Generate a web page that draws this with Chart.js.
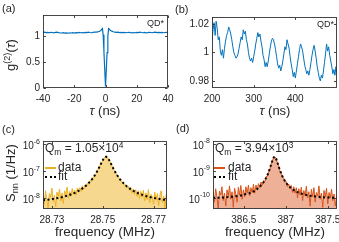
<!DOCTYPE html>
<html>
<head>
<meta charset="utf-8">
<script src="https://cdn.jsdelivr.net/npm/chart.js@4"></script>
<style>
html, body { margin: 0; padding: 0; background: #fff; }
#fig { position: relative; width: 339px; height: 242px; overflow: hidden; font-family: "Liberation Sans", Arial, sans-serif; color: #262626; }
#fig canvas { position: absolute; left: 0; top: 0; }
.t { position: absolute; white-space: nowrap; line-height: 1; }
.sup { font-size: 70%; position: relative; top: -0.5em; }
.sub { font-size: 70%; position: relative; top: 0.3em; }
.rot { transform: translate(-50%, -50%) rotate(-90deg); }
.cx { transform: translate(-50%, -50%); }
.key { position: absolute; width: 11px; height: 0; }
</style>
</head>
<body>
<div id="fig">
  <canvas id="pa" width="339" height="242"></canvas>
  <canvas id="pb" width="339" height="242"></canvas>
  <canvas id="pc" width="339" height="242"></canvas>
  <canvas id="pd" width="339" height="242"></canvas>

  <div class="t" style="left:2px;top:3px;font-size:11px">(a)</div>
  <div class="t" style="left:175px;top:4px;font-size:11px">(b)</div>
  <div class="t" style="left:2px;top:124px;font-size:11px">(c)</div>
  <div class="t" style="left:176px;top:123px;font-size:11px">(d)</div>

  <div class="t rot" style="left:11px;top:55px;font-size:13px">g<span class="sup">(2)</span>(<i>τ</i>)</div>
  <div class="t rot" style="left:11px;top:173px;font-size:13px">S<span class="sub">nn</span> (1/Hz)</div>

  <div class="t cx" style="left:105px;top:110px;font-size:13px"><i>τ</i> (ns)</div>
  <div class="t cx" style="left:275px;top:110px;font-size:13px"><i>τ</i> (ns)</div>
  <div class="t cx" style="left:105px;top:232px;font-size:13.5px">frequency (MHz)</div>
  <div class="t cx" style="left:275px;top:232px;font-size:13.5px">frequency (MHz)</div>

  <div class="t" style="right:175px;top:19px;font-size:9px">QD*</div>
  <div class="t" style="right:5px;top:20px;font-size:9px">QD*</div>

  <div class="t" style="left:45px;top:142px;font-size:12px">Q<span class="sub">m</span> = 1.05×10<span class="sup">4</span></div>
  <div class="key" style="left:45px;top:167px;border-top:2px solid #EDB120"></div>
  <div class="t" style="left:58px;top:161px;font-size:12px">data</div>
  <div class="key" style="left:45px;top:176px;border-top:2px dotted #000"></div>
  <div class="t" style="left:58px;top:170px;font-size:12px">fit</div>

  <div class="t" style="left:215px;top:142px;font-size:12px">Q<span class="sub">m</span> = 3.94×10<span class="sup">3</span></div>
  <div class="key" style="left:214px;top:167px;border-top:2px solid #D95319"></div>
  <div class="t" style="left:228px;top:161px;font-size:12px">data</div>
  <div class="key" style="left:214px;top:176px;border-top:2px dotted #000"></div>
  <div class="t" style="left:228px;top:170px;font-size:12px">fit</div>
</div>

<script>
const FONT = '"Liberation Sans", Arial, sans-serif'
const INK = '#262626'

// (a) g2 over the full delay window
const tauA = [-40, -39, -38, -37, -36, -35, -34, -33, -32, -31, -30, -29, -28, -27, -26, -25, -24, -23, -22, -21,
  -20, -19, -18, -17, -16, -15, -14, -13, -12, -11, -10, -9, -8, -7, -6, -5, -4,
  -3, -2.5, -2, -1.5, -1, -0.5, 0, 0.5, 1, 1.5, 2, 2.5, 3,
  4, 5, 6, 7, 8, 9, 10, 11, 12, 13, 14, 15, 16, 17, 18, 19, 20, 21, 22, 23, 24, 25, 26, 27, 28, 29, 30,
  31, 32, 33, 34, 35, 36, 37, 38, 39, 40]
const g2A = [1.065, 1.07, 1.062, 1.066, 1.06, 1.068, 1.064, 1.058, 1.066, 1.07, 1.062, 1.058, 1.055, 1.06, 1.052,
  1.056, 1.05, 1.058, 1.055, 1.06, 1.054, 1.062, 1.058, 1.066, 1.06, 1.064, 1.058, 1.066, 1.062, 1.07, 1.064,
  1.06, 1.066, 1.07, 1.072, 1.075, 1.085,
  1.1, 1.125, 1.14, 1.02, 0.7, 0.36, 0.03, 0.34, 0.68, 1.0, 1.14, 1.13, 1.105,
  1.09, 1.078, 1.07, 1.066, 1.072, 1.064, 1.068, 1.062, 1.066, 1.06, 1.064, 1.068, 1.062, 1.058, 1.064, 1.06,
  1.066, 1.062, 1.07, 1.064, 1.06, 1.066, 1.058, 1.062, 1.068, 1.064, 1.06, 1.066, 1.07, 1.064, 1.068, 1.062,
  1.066, 1.06, 1.064, 1.068, 1.062]
const aTicksX = [-40, -20, 0, 20, 40]
const aTicksY = [0, 0.5, 1]

// (b) g2 at long delays, sampled every 2.5 ns from 200 ns
const tauBStart = 200
const tauBStep = 2.5
const g2B = [1.008, 1.016, 1.021, 1.012, 1.022, 1.017, 1.009, 1.011, 1.001, 0.998, 1.002, 0.996, 1.003, 1.008,
  1.012, 1.014, 1.018, 1.016, 1.013, 1.009, 1.004, 1.0, 0.998, 0.996, 0.997, 0.999, 1.003, 1.007, 1.011, 1.009,
  1.016, 1.013, 1.015, 1.009, 1.006, 1.0, 0.996, 0.994, 0.996, 0.993, 0.997, 1.001, 1.006, 1.01, 1.014, 1.011,
  1.013, 1.008, 1.004, 0.998, 0.995, 0.99, 0.993, 0.99, 0.994, 0.999, 1.004, 1.008, 1.01, 1.009, 1.006, 1.002,
  0.997, 0.992, 0.989, 0.991, 0.987, 0.99, 0.994, 0.999, 1.004, 1.002, 1.009, 1.006, 1.003, 0.997, 0.992, 0.988,
  0.983, 0.986, 0.982, 0.987, 0.992, 0.997, 1.002, 1.006, 1.004, 1.001, 0.996, 0.991, 0.988, 0.985, 0.987,
  0.984, 0.988, 0.993, 0.998, 1.002, 1.005, 1.001, 0.996, 0.99, 0.986, 0.982, 0.98, 0.984, 0.982, 0.987, 0.993,
  0.999, 1.006, 1.001, 1.004, 0.998, 0.994, 0.99, 0.985, 0.988, 0.984, 0.99, 0.985]
const bTicksX = [200, 300, 400]
const bTicksY = [0.98, 1, 1.02]

// (c) noise spectrum of the 28.75 MHz mode, 0.5 kHz bins
const freqCStart = 28.7265
const freqCStep = 0.0005
const snnC = [1.4e-8, 6.0e-9, 1.9e-8, 9.0e-9, 4.5e-9, 1.5e-8, 1.1e-8, 2.4e-8, 7.5e-9, 1.3e-8,
  5.0e-9, 1.7e-8, 1.2e-8, 2.2e-8, 8.0e-9, 1.6e-8, 6.5e-9, 1.9e-8, 1.4e-8, 2.6e-8,
  1.0e-8, 1.8e-8, 1.2e-8, 2.3e-8, 1.4e-8, 2.0e-8, 1.3e-8, 2.4e-8, 1.7e-8, 2.5e-8,
  1.8e-8, 2.9e-8, 2.2e-8, 3.1e-8, 2.6e-8, 3.6e-8, 3.3e-8, 4.6e-8, 4.2e-8, 5.8e-8,
  6.0e-8, 7.6e-8, 8.4e-8, 1.1e-7, 1.27e-7, 1.66e-7, 2.0e-7, 2.55e-7, 2.95e-7, 3.4e-7,
  3.32e-7, 3.12e-7, 2.58e-7, 2.16e-7, 1.65e-7, 1.4e-7, 1.07e-7, 9.4e-8, 7.3e-8, 6.7e-8,
  5.2e-8, 5.0e-8, 3.9e-8, 4.0e-8, 3.0e-8, 3.3e-8, 2.4e-8, 2.8e-8, 2.0e-8, 2.5e-8,
  1.6e-8, 2.2e-8, 1.4e-8, 2.1e-8, 1.2e-8, 1.9e-8, 1.0e-8, 1.8e-8, 1.1e-8, 2.0e-8,
  8.0e-9, 1.6e-8, 9.0e-9, 2.1e-8, 7.0e-9, 1.4e-8, 1.2e-8, 6.0e-9, 1.7e-8, 8.5e-9,
  1.5e-8, 5.5e-9, 1.3e-8, 1.9e-8, 7.0e-9, 1.2e-8, 4.5e-9, 1.4e-8, 9.0e-9]
const fitFreqC = [28.7265, 28.7303, 28.7333, 28.7363, 28.7393, 28.7413, 28.7433, 28.7453, 28.7463, 28.7473,
  28.7483, 28.7493, 28.7498, 28.7503, 28.7508, 28.7513, 28.7518, 28.7523, 28.7528, 28.7533, 28.7543,
  28.7553, 28.7563, 28.7573, 28.7593, 28.7613, 28.7633, 28.7663, 28.7693, 28.7723, 28.7753]
const fitSnnC = [8.5e-9, 9.5e-9, 1.07e-8, 1.27e-8, 1.64e-8, 2.08e-8, 2.86e-8, 4.4e-8, 5.8e-8, 8.1e-8,
  1.2e-7, 1.86e-7, 2.31e-7, 2.81e-7, 3.24e-7, 3.41e-7, 3.24e-7, 2.81e-7, 2.31e-7, 1.86e-7, 1.2e-7,
  8.1e-8, 5.8e-8, 4.4e-8, 2.86e-8, 2.08e-8, 1.64e-8, 1.27e-8, 1.07e-8, 9.5e-9, 8.5e-9]
const cTicksX = [28.73, 28.75, 28.77]
const cTicksY = [1e-8, 1e-7, 1e-6]

// (d) noise spectrum of the 387 MHz mode, 15 kHz bins
const freqDStart = 386.135
const freqDStep = 0.015
const snnD = [1.6e-10, 7e-11, 2.2e-10, 1.1e-10, 4e-11, 1.8e-10, 1.3e-10, 2.6e-10, 8e-11, 1.5e-10,
  5e-11, 2.0e-10, 1.2e-10, 2.8e-10, 9e-11, 1.7e-10, 4.5e-11, 2.3e-10, 1.4e-10, 7e-11,
  2.5e-10, 1.3e-10, 2.9e-10, 9e-11, 2.0e-10, 1.1e-10, 2.6e-10, 1.5e-10, 3.0e-10, 1.2e-10,
  2.4e-10, 1.6e-10, 3.2e-10, 1.5e-10, 3.0e-10, 2.0e-10, 3.4e-10, 2.4e-10, 3.9e-10, 3.0e-10,
  4.4e-10, 4.0e-10, 6.2e-10, 6.4e-10, 9.6e-10, 1.15e-9, 1.8e-9, 2.3e-9, 3.2e-9, 3.3e-9,
  2.95e-9, 2.0e-9, 1.55e-9, 1.0e-9, 8.6e-10, 5.8e-10, 5.6e-10, 3.8e-10, 4.1e-10, 2.6e-10,
  3.3e-10, 2.2e-10, 2.9e-10, 1.6e-10, 2.6e-10, 1.5e-10, 2.4e-10, 1.0e-10, 2.2e-10, 1.3e-10,
  2.5e-10, 8e-11, 1.9e-10, 1.2e-10, 2.7e-10, 1.0e-10, 1.7e-10, 5e-11, 2.1e-10, 1.1e-10,
  2.4e-10, 7e-11, 1.6e-10, 1.2e-10, 2.8e-10, 9e-11, 1.5e-10, 4.5e-11, 1.9e-10, 1.1e-10,
  2.3e-10, 6e-11, 1.6e-10, 1.0e-10, 2.1e-10, 8e-11, 1.4e-10, 5e-11, 1.2e-10]
const fitFreqD = [386.133, 386.267, 386.367, 386.467, 386.567, 386.617, 386.667, 386.707, 386.737, 386.767,
  386.787, 386.807, 386.827, 386.837, 386.847, 386.857, 386.867, 386.877, 386.887, 386.897, 386.907,
  386.927, 386.947, 386.967, 386.997, 387.027, 387.067, 387.117, 387.167, 387.267, 387.367, 387.467, 387.61]
const fitSnnD = [1.0e-10, 1.05e-10, 1.12e-10, 1.24e-10, 1.5e-10, 1.76e-10, 2.23e-10, 2.94e-10, 3.89e-10,
  5.65e-10, 7.76e-10, 1.14e-9, 1.78e-9, 2.24e-9, 2.76e-9, 3.2e-9, 3.39e-9, 3.2e-9, 2.76e-9, 2.24e-9,
  1.78e-9, 1.14e-9, 7.76e-10, 5.65e-10, 3.89e-10, 2.94e-10, 2.23e-10, 1.76e-10, 1.5e-10, 1.24e-10,
  1.12e-10, 1.05e-10, 1.0e-10]
const dTicksX = [386.5, 387, 387.5]
const dTicksY = [1e-10, 1e-9, 1e-8]

const pairs = (xs, ys) => ys.map((y, i) => ({ x: xs[i], y }))
const grid = (x0, dx, ys) => ys.map((y, i) => ({ x: x0 + i * dx, y }))

// box on, inward ticks, and 10^n labels for the log axes
const boxPlugin = {
  id: 'box',
  afterDraw(chart) {
    const { ctx, chartArea: a, scales } = chart
    const l = Math.round(a.left) + 0.5
    const r = Math.round(a.right) - 0.5
    const t = Math.round(a.top) + 0.5
    const b = Math.round(a.bottom) - 0.5
    ctx.save()
    ctx.strokeStyle = '#333'
    ctx.lineWidth = 0.9
    ctx.strokeRect(l, t, r - l, b - t)
    ctx.beginPath()
    scales.x.ticks.forEach((k) => {
      const p = Math.round(scales.x.getPixelForValue(k.value)) + 0.5
      ctx.moveTo(p, b); ctx.lineTo(p, b - 2.5)
      ctx.moveTo(p, t); ctx.lineTo(p, t + 2.5)
    })
    scales.y.ticks.forEach((k) => {
      const p = Math.round(scales.y.getPixelForValue(k.value)) + 0.5
      ctx.moveTo(l, p); ctx.lineTo(l + 2.5, p)
      ctx.moveTo(r, p); ctx.lineTo(r - 2.5, p)
    })
    ctx.stroke()
    if (scales.y.type === 'logarithmic') {
      ctx.fillStyle = INK
      ctx.textBaseline = 'alphabetic'
      ctx.textAlign = 'left'
      scales.y.ticks.forEach((k) => {
        const p = scales.y.getPixelForValue(k.value)
        const e = String(Math.round(Math.log10(k.value)))
        ctx.font = '7px ' + FONT
        const we = ctx.measureText(e).width
        ctx.font = '10px ' + FONT
        const wb = ctx.measureText('10').width
        const xr = a.left - 3
        ctx.fillText('10', xr - we - wb, p + 5)
        ctx.font = '7px ' + FONT
        ctx.fillText(e, xr - we, p - 0.5)
      })
    }
    ctx.restore()
  },
}

// area = plot rectangle on the page, cell = panel rectangle
function makePanel(id, cell, area, x, y, datasets) {
  const [cl, ct, cr, cb] = cell
  const [L, T, R, B] = area
  const isLog = y.type === 'logarithmic'
  return new Chart(document.getElementById(id), {
    type: 'line',
    data: { datasets },
    options: {
      responsive: false,
      animation: false,
      devicePixelRatio: 1,
      layout: { padding: { left: cl, top: T, right: 339 - R, bottom: 242 - cb } },
      plugins: { legend: { display: false }, tooltip: { enabled: false } },
      elements: { point: { radius: 0 }, line: { tension: 0 } },
      scales: {
        x: {
          type: 'linear',
          min: x.min,
          max: x.max,
          grid: { display: false, drawTicks: false, tickLength: 0 },
          border: { display: false },
          afterBuildTicks: (s) => { s.ticks = x.ticks.map((v) => ({ value: v })) },
          afterFit: (s) => { s.height = cb - B; s.paddingLeft = 0; s.paddingRight = 0 },
          ticks: {
            autoSkip: false,
            maxRotation: 0,
            padding: 5,
            color: INK,
            font: { family: FONT, size: 10 },
            callback: x.label,
          },
        },
        y: {
          type: y.type,
          min: y.min,
          max: y.max,
          grid: { display: false, drawTicks: false, tickLength: 0 },
          border: { display: false },
          afterBuildTicks: (s) => { s.ticks = y.ticks.map((v) => ({ value: v })) },
          afterFit: (s) => { s.width = L - cl; s.paddingTop = 0; s.paddingBottom = 0 },
          ticks: {
            display: !isLog,
            padding: 3,
            color: INK,
            font: { family: FONT, size: 10 },
            callback: (v) => String(v),
          },
        },
      },
    },
    plugins: [boxPlugin],
  })
}

makePanel('pa', [0, 0, 170, 121], [43, 15, 168, 88],
  { min: -40, max: 40, ticks: aTicksX, label: (v) => String(v) },
  { type: 'linear', min: 0, max: 1.4, ticks: aTicksY },
  [{ data: pairs(tauA, g2A), borderColor: '#0072BD', borderWidth: 1.2 }])

makePanel('pb', [170, 0, 339, 121], [212, 17, 337, 88],
  { min: 200, max: 500, ticks: bTicksX, label: (v) => String(v) },
  { type: 'linear', min: 0.975, max: 1.025, ticks: bTicksY },
  [{ data: grid(tauBStart, tauBStep, g2B), borderColor: '#0072BD', borderWidth: 1 }])

makePanel('pc', [0, 121, 170, 242], [43, 141, 167, 209],
  { min: 28.7265, max: 28.7753, ticks: cTicksX, label: (v) => v.toFixed(2) },
  { type: 'logarithmic', min: 4.07e-9, max: 1.29e-6, ticks: cTicksY },
  [
    { data: pairs(fitFreqC, fitSnnC), borderColor: '#000', borderWidth: 2, borderDash: [2, 2.5], order: 0 },
    { data: grid(freqCStart, freqCStep, snnC), borderColor: '#EDB120', borderWidth: 1,
      backgroundColor: 'rgba(237,177,32,0.5)', fill: 'start', order: 1 },
  ])

makePanel('pd', [170, 121, 339, 242], [213, 141, 337, 209],
  { min: 386.133, max: 387.61, ticks: dTicksX, label: (v) => String(v) },
  { type: 'logarithmic', min: 3.9e-11, max: 1.29e-8, ticks: dTicksY },
  [
    { data: pairs(fitFreqD, fitSnnD), borderColor: '#000', borderWidth: 2, borderDash: [2, 2.5], order: 0 },
    { data: grid(freqDStart, freqDStep, snnD), borderColor: '#D95319', borderWidth: 1,
      backgroundColor: 'rgba(217,83,25,0.45)', fill: 'start', order: 1 },
  ])
</script>
</body>
</html>
